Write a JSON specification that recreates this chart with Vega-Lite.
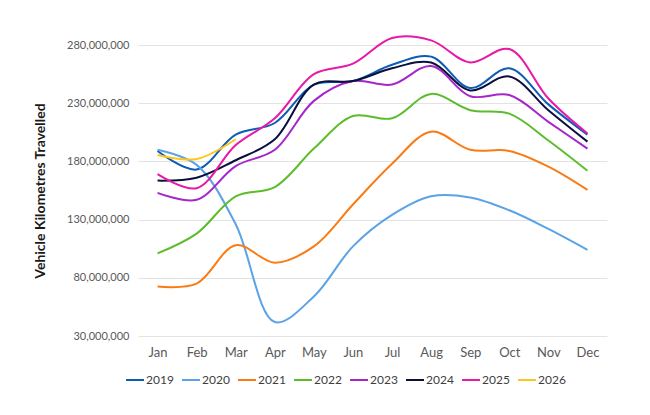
{
  "$schema": "https://vega.github.io/schema/vega-lite/v6.json",
  "autosize": {"type": "none"},
  "width": 469,
  "height": 291,
  "padding": {"left": 138, "top": 45, "right": 43, "bottom": 79},
  "background": "white",
  "config": {
    "view": {"stroke": null},
    "font": "Lato",
    "axis": {"labelFont": "Lato", "titleFont": "Lato"},
    "legend": {"labelFont": "Lato"}
  },
  "data": {
    "values": [
      {"month": "Jan", "year": "2019", "vkt": 189000000}, {"month": "Feb", "year": "2019", "vkt": 173000000}, {"month": "Mar", "year": "2019", "vkt": 203000000}, {"month": "Apr", "year": "2019", "vkt": 213000000}, {"month": "May", "year": "2019", "vkt": 246000000}, {"month": "Jun", "year": "2019", "vkt": 249000000}, {"month": "Jul", "year": "2019", "vkt": 263000000}, {"month": "Aug", "year": "2019", "vkt": 270000000}, {"month": "Sep", "year": "2019", "vkt": 243000000}, {"month": "Oct", "year": "2019", "vkt": 260000000}, {"month": "Nov", "year": "2019", "vkt": 229000000}, {"month": "Dec", "year": "2019", "vkt": 203000000},
      {"month": "Jan", "year": "2020", "vkt": 190000000}, {"month": "Feb", "year": "2020", "vkt": 177000000}, {"month": "Mar", "year": "2020", "vkt": 126000000}, {"month": "Apr", "year": "2020", "vkt": 42000000}, {"month": "May", "year": "2020", "vkt": 64000000}, {"month": "Jun", "year": "2020", "vkt": 107000000}, {"month": "Jul", "year": "2020", "vkt": 134000000}, {"month": "Aug", "year": "2020", "vkt": 150000000}, {"month": "Sep", "year": "2020", "vkt": 149000000}, {"month": "Oct", "year": "2020", "vkt": 138000000}, {"month": "Nov", "year": "2020", "vkt": 122000000}, {"month": "Dec", "year": "2020", "vkt": 104000000},
      {"month": "Jan", "year": "2021", "vkt": 72500000}, {"month": "Feb", "year": "2021", "vkt": 75000000}, {"month": "Mar", "year": "2021", "vkt": 108000000}, {"month": "Apr", "year": "2021", "vkt": 93000000}, {"month": "May", "year": "2021", "vkt": 107000000}, {"month": "Jun", "year": "2021", "vkt": 143000000}, {"month": "Jul", "year": "2021", "vkt": 178000000}, {"month": "Aug", "year": "2021", "vkt": 205500000}, {"month": "Sep", "year": "2021", "vkt": 190000000}, {"month": "Oct", "year": "2021", "vkt": 189000000}, {"month": "Nov", "year": "2021", "vkt": 175500000}, {"month": "Dec", "year": "2021", "vkt": 155500000},
      {"month": "Jan", "year": "2022", "vkt": 101000000}, {"month": "Feb", "year": "2022", "vkt": 118000000}, {"month": "Mar", "year": "2022", "vkt": 150000000}, {"month": "Apr", "year": "2022", "vkt": 158000000}, {"month": "May", "year": "2022", "vkt": 191000000}, {"month": "Jun", "year": "2022", "vkt": 219000000}, {"month": "Jul", "year": "2022", "vkt": 217000000}, {"month": "Aug", "year": "2022", "vkt": 238000000}, {"month": "Sep", "year": "2022", "vkt": 224000000}, {"month": "Oct", "year": "2022", "vkt": 221000000}, {"month": "Nov", "year": "2022", "vkt": 198000000}, {"month": "Dec", "year": "2022", "vkt": 172000000},
      {"month": "Jan", "year": "2023", "vkt": 153000000}, {"month": "Feb", "year": "2023", "vkt": 147000000}, {"month": "Mar", "year": "2023", "vkt": 176000000}, {"month": "Apr", "year": "2023", "vkt": 190000000}, {"month": "May", "year": "2023", "vkt": 232000000}, {"month": "Jun", "year": "2023", "vkt": 249000000}, {"month": "Jul", "year": "2023", "vkt": 246000000}, {"month": "Aug", "year": "2023", "vkt": 262000000}, {"month": "Sep", "year": "2023", "vkt": 236000000}, {"month": "Oct", "year": "2023", "vkt": 237000000}, {"month": "Nov", "year": "2023", "vkt": 214000000}, {"month": "Dec", "year": "2023", "vkt": 191000000},
      {"month": "Jan", "year": "2024", "vkt": 163500000}, {"month": "Feb", "year": "2024", "vkt": 166000000}, {"month": "Mar", "year": "2024", "vkt": 181000000}, {"month": "Apr", "year": "2024", "vkt": 199000000}, {"month": "May", "year": "2024", "vkt": 246000000}, {"month": "Jun", "year": "2024", "vkt": 249000000}, {"month": "Jul", "year": "2024", "vkt": 260000000}, {"month": "Aug", "year": "2024", "vkt": 265000000}, {"month": "Sep", "year": "2024", "vkt": 241000000}, {"month": "Oct", "year": "2024", "vkt": 253000000}, {"month": "Nov", "year": "2024", "vkt": 224000000}, {"month": "Dec", "year": "2024", "vkt": 197000000},
      {"month": "Jan", "year": "2025", "vkt": 169000000}, {"month": "Feb", "year": "2025", "vkt": 157000000}, {"month": "Mar", "year": "2025", "vkt": 194000000}, {"month": "Apr", "year": "2025", "vkt": 217000000}, {"month": "May", "year": "2025", "vkt": 255000000}, {"month": "Jun", "year": "2025", "vkt": 264000000}, {"month": "Jul", "year": "2025", "vkt": 286000000}, {"month": "Aug", "year": "2025", "vkt": 284000000}, {"month": "Sep", "year": "2025", "vkt": 265000000}, {"month": "Oct", "year": "2025", "vkt": 276500000}, {"month": "Nov", "year": "2025", "vkt": 234000000}, {"month": "Dec", "year": "2025", "vkt": 204000000},
      {"month": "Jan", "year": "2026", "vkt": 185500000}, {"month": "Feb", "year": "2026", "vkt": 182000000}, {"month": "Mar", "year": "2026", "vkt": 199000000}
    ]
  },
  "mark": {"type": "line", "interpolate": "catmull-rom", "strokeWidth": 2, "clip": false},
  "encoding": {
    "x": {
      "field": "month",
      "type": "ordinal",
      "sort": ["Jan", "Feb", "Mar", "Apr", "May", "Jun", "Jul", "Aug", "Sep", "Oct", "Nov", "Dec"],
      "scale": {"padding": 0.5},
      "axis": {
        "title": null,
        "labelAngle": 0,
        "labelFontSize": 13,
        "labelColor": "#595959",
        "labelPadding": 10,
        "ticks": false,
        "domain": false,
        "grid": false
      }
    },
    "y": {
      "field": "vkt",
      "type": "quantitative",
      "scale": {"domain": [30000000, 280000000], "nice": false, "zero": false},
      "axis": {
        "title": "Vehicle Kilometres Travelled",
        "titleFontSize": 14,
        "titleFontWeight": "bold",
        "titleColor": "#1a1a1a",
        "titleX": -98,
        "titleY": 145.5,
        "titleAngle": -90,
        "titleAlign": "center",
        "titleBaseline": "middle",
        "values": [30000000, 80000000, 130000000, 180000000, 230000000, 280000000],
        "format": ",d",
        "labelFontSize": 11,
        "labelColor": "#595959",
        "labelPadding": 9,
        "ticks": false,
        "domain": false,
        "grid": true,
        "gridColor": "#E3E3E3",
        "gridWidth": 1
      }
    },
    "color": {
      "field": "year",
      "type": "nominal",
      "scale": {
        "domain": ["2019", "2020", "2021", "2022", "2023", "2024", "2025", "2026"],
        "range": ["#0E5CB5", "#5BA3E6", "#F97B14", "#5BBD2B", "#A626C9", "#0A0F3C", "#E619A8", "#FFC71A"]
      },
      "legend": {
        "title": null,
        "orient": "none",
        "direction": "horizontal",
        "legendX": -13,
        "legendY": 325,
        "symbolType": "stroke",
        "symbolSize": 324,
        "symbolStrokeWidth": 2,
        "labelFontSize": 12,
        "labelColor": "#404040",
        "labelOffset": 1,
        "columnPadding": 4
      }
    }
  }
}
